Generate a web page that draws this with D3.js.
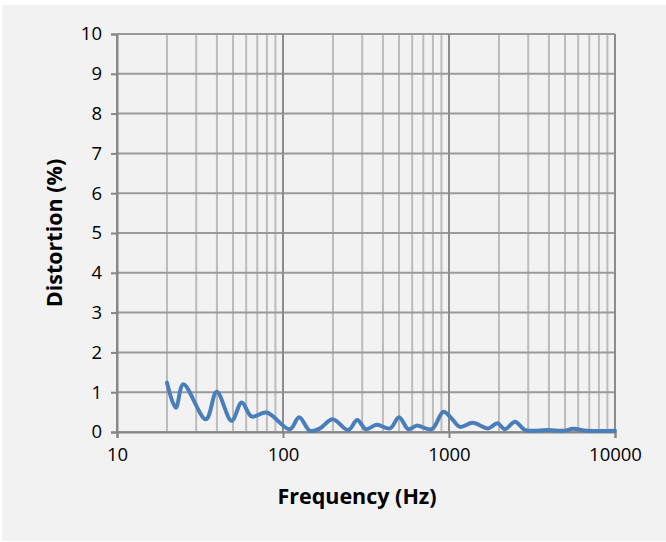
<!DOCTYPE html>
<html><head><meta charset="utf-8">
<script src="https://cdn.jsdelivr.net/npm/d3@7"></script>
<style>html,body{margin:0;padding:0;background:#fff;}svg{display:block;}</style>
</head><body>
<svg id="chart" width="666" height="542"></svg>
<script>
const freqHz = [20, 22.6, 25.1, 34.3, 39.9, 49, 56.4, 64.7, 79.7, 110, 125, 145.6, 167, 199, 247, 280, 316, 367, 441, 500, 569, 639, 787, 925, 1037, 1164, 1390, 1725, 1955, 2174, 2500, 2872, 3964, 4884, 5610, 6760, 10000];
const distortion = [1.24, 0.61, 1.2, 0.32, 1.01, 0.28, 0.74, 0.39, 0.49, 0.07, 0.37, 0.03, 0.09, 0.32, 0.05, 0.3, 0.07, 0.18, 0.09, 0.37, 0.07, 0.16, 0.07, 0.51, 0.34, 0.13, 0.23, 0.09, 0.22, 0.07, 0.26, 0.05, 0.05, 0.03, 0.08, 0.03, 0.03];
const xTicks = [10, 100, 1000, 10000];
const yTicks = [0, 1, 2, 3, 4, 5, 6, 7, 8, 9, 10];
const xTitle = "Frequency (Hz)";
const yTitle = "Distortion (%)";

const svg = d3.select("#chart");
const L = 117, R = 615, T = 34, B = 432;
const font = "'Open Sans', 'Liberation Sans', sans-serif";

svg.append("rect").attr("x", 2).attr("y", 5).attr("width", 664).attr("height", 536).attr("fill", "#f2f2f2");

const x = d3.scaleLog().domain([10, 10000]).range([L, R]);
const y = d3.scaleLinear().domain([0, 10]).range([B, T]);

// minor vertical gridlines
const minor = [];
for (let dec = 10; dec < 10000; dec *= 10) for (let k = 2; k <= 9; k++) minor.push(dec * k);
svg.append("g").selectAll("line").data(minor).join("line")
  .attr("x1", d => x(d)).attr("x2", d => x(d)).attr("y1", T).attr("y2", B)
  .attr("stroke", "#bcbcbc").attr("stroke-width", 2);
// horizontal gridlines
svg.append("g").selectAll("line").data(yTicks).join("line")
  .attr("x1", L).attr("x2", R).attr("y1", d => y(d)).attr("y2", d => y(d))
  .attr("stroke", "#9a9a9a").attr("stroke-width", 2);
// major vertical gridlines
svg.append("g").selectAll("line").data(xTicks).join("line")
  .attr("x1", d => x(d)).attr("x2", d => x(d)).attr("y1", T).attr("y2", B)
  .attr("stroke", "#8c8c8c").attr("stroke-width", 2);

// axes
const xAxis = d3.axisBottom(x).tickValues(xTicks).tickFormat(d3.format("d")).tickSize(6).tickPadding(10);
const gx = svg.append("g").attr("transform", `translate(0,${B})`).call(xAxis);
const yAxis = d3.axisLeft(y).tickValues(yTicks).tickSize(6).tickPadding(9);
const gy = svg.append("g").attr("transform", `translate(${L},0)`).call(yAxis);
[gx, gy].forEach(g => {
  g.select(".domain").attr("stroke", "#868686").attr("stroke-width", 2);
  g.selectAll(".tick line").attr("stroke", "#868686").attr("stroke-width", 2);
  g.selectAll(".tick text").attr("fill", "#000").attr("font-family", font).attr("font-size", 18.5);
});

// line
const line = d3.line().x((d, i) => x(freqHz[i])).y(d => y(d)).curve(d3.curveCatmullRom.alpha(0.5));
svg.append("path").datum(distortion).attr("d", line)
  .attr("fill", "none").attr("stroke", "#4a7ebb").attr("stroke-width", 4)
  .attr("stroke-linejoin", "round").attr("stroke-linecap", "round");

// titles
svg.append("text").attr("x", 357).attr("y", 504).attr("text-anchor", "middle")
  .attr("font-family", font).attr("font-weight", "bold").attr("font-size", 21.5).text(xTitle);
svg.append("text").attr("transform", `translate(62,233) rotate(-90)`).attr("text-anchor", "middle")
  .attr("font-family", font).attr("font-weight", "bold").attr("font-size", 21.5).text(yTitle);
</script>
</body></html>
